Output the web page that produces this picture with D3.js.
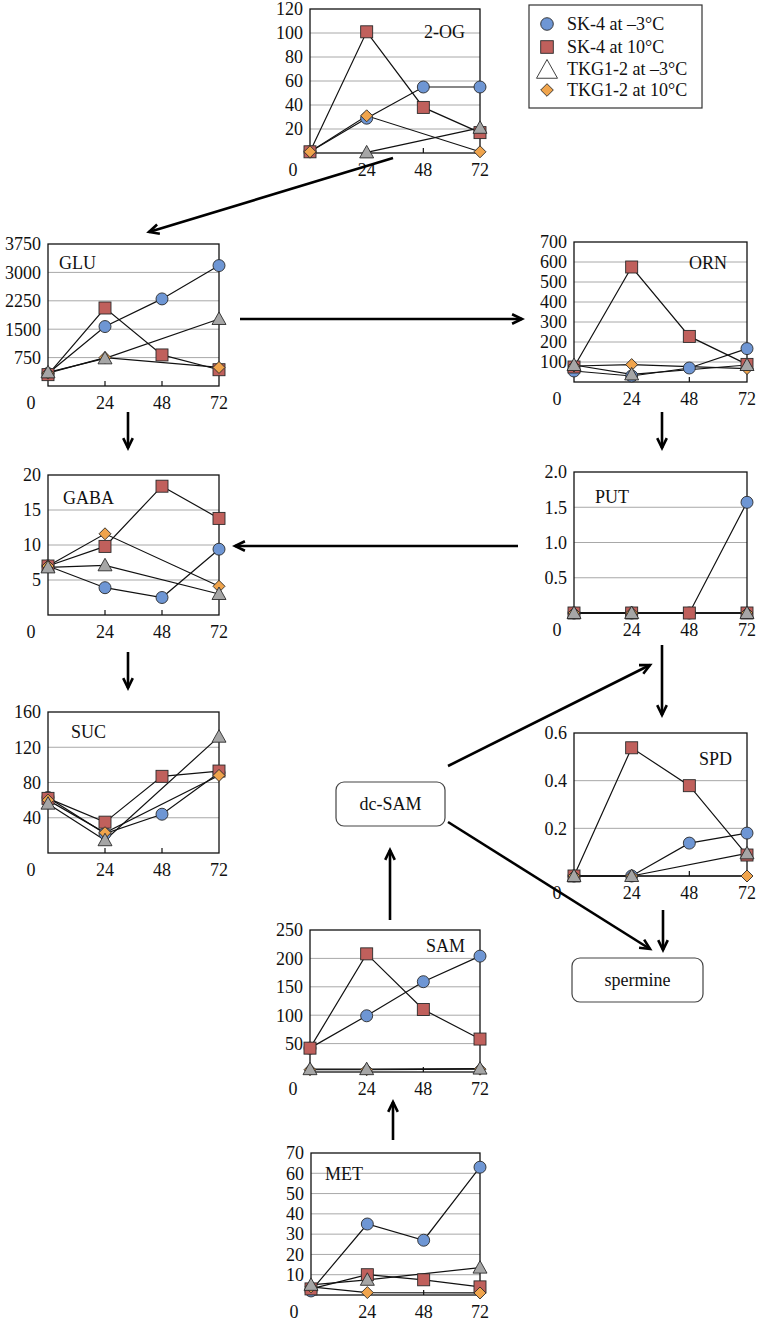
<!DOCTYPE html>
<html><head><meta charset="utf-8">
<script src="https://cdn.jsdelivr.net/npm/d3@7"></script>
<style>body{margin:0;background:#fff}svg{display:block;font-family:"Liberation Serif","Times New Roman",serif}</style>
</head><body><svg id="c" width="757" height="1323"></svg>
<script>
// ---------- data ----------
const hours = [0, 24, 48, 72];
const xTickLabels = [24, 48, 72];
const seriesNames = ["SK-4 at \u20133\u00B0C", "SK-4 at 10\u00B0C", "TKG1-2 at \u20133\u00B0C", "TKG1-2 at 10\u00B0C"];
const metaboliteNames = ["2-OG", "GLU", "ORN", "GABA", "PUT", "SUC", "SPD", "SAM", "MET"];
const nodeNames = ["dc-SAM", "spermine"];

// order in each: SK-4 -3 (circle), SK-4 10 (square), TKG1-2 -3 (triangle), TKG1-2 10 (diamond)
const og_sk4Cold = [1, 29, 55, 55];
const og_sk4Warm = [1, 101, 38, 17];
const og_tkgCold = [null, 0.5, null, 21];
const og_tkgWarm = [1, 31, null, 1];
const ogTicks = [20, 40, 60, 80, 100, 120];

const glu_sk4Cold = [330, 1570, 2300, 3180];
const glu_sk4Warm = [300, 2060, 820, 430];
const glu_tkgCold = [360, 730, null, 1770];
const glu_tkgWarm = [340, 750, null, 490];
const gluTicks = [750, 1500, 2250, 3000, 3750];

const orn_sk4Cold = [55, 30, 70, 167];
const orn_sk4Warm = [75, 575, 228, 88];
const orn_tkgCold = [85, 38, null, 85];
const orn_tkgWarm = [80, 87, null, 67];
const ornTicks = [100, 200, 300, 400, 500, 600, 700];

const gaba_sk4Cold = [7.0, 3.9, 2.5, 9.4];
const gaba_sk4Warm = [7.0, 9.8, 18.4, 13.8];
const gaba_tkgCold = [6.8, 7.1, null, 3.0];
const gaba_tkgWarm = [7.0, 11.6, null, 4.1];
const gabaTicks = [5, 10, 15, 20];

const put_sk4Cold = [0, 0, 0, 1.57];
const put_sk4Warm = [0, 0, 0, 0];
const put_tkgCold = [0, 0, null, 0];
const put_tkgWarm = [0, 0, null, 0];
const putTicks = [0.5, 1.0, 1.5, 2.0];

const suc_sk4Cold = [63, 22, 44, 91];
const suc_sk4Warm = [62, 35, 87, 93];
const suc_tkgCold = [56, 14.5, null, 132];
const suc_tkgWarm = [60, 23, null, 88];
const sucTicks = [40, 80, 120, 160];

const spd_sk4Cold = [0, 0, 0.138, 0.18];
const spd_sk4Warm = [0, 0.538, 0.379, 0.088];
const spd_tkgCold = [0, 0, null, 0.095];
const spd_tkgWarm = [0, 0, null, 0];
const spdTicks = [0.2, 0.4, 0.6];

const sam_sk4Cold = [42, 99, 159, 204];
const sam_sk4Warm = [42, 208, 110, 58];
const sam_tkgCold = [5, 5, null, 6];
const sam_tkgWarm = [4, 4, null, 5];
const samTicks = [50, 100, 150, 200, 250];

const met_sk4Cold = [2, 35, 27, 63];
const met_sk4Warm = [3, 10, 7.5, 4];
const met_tkgCold = [5, 7.5, null, 13.5];
const met_tkgWarm = [4, 1.2, null, 1];
const metTicks = [10, 20, 30, 40, 50, 60, 70];

// ---------- styles / layout ----------
const fills = ["#6e96d4", "#c0605c", "#a6a6a6", "#f0a44c"];
const shapes = ["circle", "square", "triangle", "diamond"];
const drawOrder = [0, 1, 3, 2];
const FS = 18;

const panels = [
  {name: metaboliteNames[0], L: 310, R: 480, T: 9,   B: 153,  max: 120,  ticks: ogTicks,   fmt: d3.format("d"),   nx: 465, ny: 32,  anchor: "end",   s: [og_sk4Cold, og_sk4Warm, og_tkgCold, og_tkgWarm]},
  {name: metaboliteNames[1], L: 48,  R: 219, T: 244, B: 386,  max: 3750, ticks: gluTicks,  fmt: d3.format("d"),   nx: 59,  ny: 263, anchor: "start", s: [glu_sk4Cold, glu_sk4Warm, glu_tkgCold, glu_tkgWarm]},
  {name: metaboliteNames[2], L: 574, R: 747, T: 242, B: 382,  max: 700,  ticks: ornTicks,  fmt: d3.format("d"),   nx: 727, ny: 263, anchor: "end",   s: [orn_sk4Cold, orn_sk4Warm, orn_tkgCold, orn_tkgWarm]},
  {name: metaboliteNames[3], L: 48,  R: 219, T: 475, B: 615,  max: 20,   ticks: gabaTicks, fmt: d3.format("d"),   nx: 63,  ny: 498, anchor: "start", s: [gaba_sk4Cold, gaba_sk4Warm, gaba_tkgCold, gaba_tkgWarm]},
  {name: metaboliteNames[4], L: 574, R: 747, T: 472, B: 613,  max: 2,    ticks: putTicks,  fmt: d3.format(".1f"), nx: 595, ny: 497, anchor: "start", s: [put_sk4Cold, put_sk4Warm, put_tkgCold, put_tkgWarm]},
  {name: metaboliteNames[5], L: 48,  R: 219, T: 712, B: 853,  max: 160,  ticks: sucTicks,  fmt: d3.format("d"),   nx: 71,  ny: 732, anchor: "start", s: [suc_sk4Cold, suc_sk4Warm, suc_tkgCold, suc_tkgWarm]},
  {name: metaboliteNames[6], L: 574, R: 747, T: 733, B: 876,  max: 0.6,  ticks: spdTicks,  fmt: d3.format(".1f"), nx: 732, ny: 759, anchor: "end",   s: [spd_sk4Cold, spd_sk4Warm, spd_tkgCold, spd_tkgWarm]},
  {name: metaboliteNames[7], L: 310, R: 480, T: 930, B: 1072, max: 250,  ticks: samTicks,  fmt: d3.format("d"),   nx: 465, ny: 946, anchor: "end",   s: [sam_sk4Cold, sam_sk4Warm, sam_tkgCold, sam_tkgWarm]},
  {name: metaboliteNames[8], L: 311, R: 480, T: 1153, B: 1295, max: 70,  ticks: metTicks,  fmt: d3.format("d"),   nx: 325, ny: 1174, anchor: "start", s: [met_sk4Cold, met_sk4Warm, met_tkgCold, met_tkgWarm]}
];

const svg = d3.select("#c");

function marker(g, shape, x, y, fill, scale) {
  const k = scale || 1;
  let el;
  if (shape === "circle") el = g.append("circle").attr("cx", x).attr("cy", y).attr("r", 6 * k);
  else if (shape === "square") el = g.append("rect").attr("x", x - 6 * k).attr("y", y - 6 * k).attr("width", 12 * k).attr("height", 12 * k);
  else if (shape === "triangle") el = g.append("path").attr("d", `M${x},${y - 7 * k}L${x + 7 * k},${y + 5.5 * k}L${x - 7 * k},${y + 5.5 * k}Z`);
  else el = g.append("path").attr("d", `M${x},${y - 6 * k}L${x + 6 * k},${y}L${x},${y + 6 * k}L${x - 6 * k},${y}Z`);
  el.attr("fill", fill).attr("stroke", "#2a2a2a").attr("stroke-width", 0.9);
  return el;
}

panels.forEach(p => {
  const g = svg.append("g");
  const x = d3.scaleLinear().domain([0, 72]).range([p.L, p.R]);
  const y = d3.scaleLinear().domain([0, p.max]).range([p.B, p.T]);
  g.selectAll("line.grid").data(p.ticks.filter(t => t < p.max)).join("line")
    .attr("x1", p.L).attr("x2", p.R).attr("y1", d => y(d)).attr("y2", d => y(d))
    .attr("stroke", "#a8a8a8").attr("stroke-width", 1);
  g.append("rect").attr("x", p.L).attr("y", p.T).attr("width", p.R - p.L).attr("height", p.B - p.T)
    .attr("fill", "none").attr("stroke", "#111").attr("stroke-width", 1.3);
  g.selectAll("line.xt").data([24, 48]).join("line")
    .attr("x1", d => x(d)).attr("x2", d => x(d)).attr("y1", p.B).attr("y2", p.B - 5)
    .attr("stroke", "#111").attr("stroke-width", 1.2);
  g.selectAll("text.yl").data(p.ticks).join("text")
    .attr("x", p.L - 7).attr("y", d => y(d)).attr("dy", "0.35em")
    .attr("text-anchor", "end").attr("font-size", FS).attr("fill", "#111").text(d => p.fmt(d));
  g.selectAll("text.xl").data(xTickLabels).join("text")
    .attr("x", d => x(d)).attr("y", p.B + 17).attr("dy", "0.35em")
    .attr("text-anchor", "middle").attr("font-size", FS).attr("fill", "#111").text(d => d);
  g.append("text").attr("x", p.L - 17).attr("y", p.B + 17).attr("dy", "0.35em")
    .attr("text-anchor", "middle").attr("font-size", FS).attr("fill", "#111").text(hours[0]);
  g.append("text").attr("x", p.nx).attr("y", p.ny).attr("dy", "0.35em")
    .attr("text-anchor", p.anchor).attr("font-size", FS).attr("fill", "#111").text(p.name);
  const line = d3.line().x(d => x(d[0])).y(d => y(d[1]));
  drawOrder.forEach(si => {
    const pts = hours.map((h, i) => [h, p.s[si][i]]).filter(d => d[1] != null);
    g.append("path").attr("d", line(pts)).attr("fill", "none").attr("stroke", "#111").attr("stroke-width", 1.2);
  });
  drawOrder.forEach(si => {
    hours.forEach((h, i) => {
      const v = p.s[si][i];
      if (v != null) marker(g, shapes[si], x(h), y(v), fills[si]);
    });
  });
});

// legend
const lg = svg.append("g");
lg.append("rect").attr("x", 529).attr("y", 5).attr("width", 173).attr("height", 103)
  .attr("fill", "#fff").attr("stroke", "#333").attr("stroke-width", 1.2);
const legY = [24, 47, 69, 90];
seriesNames.forEach((n, i) => {
  const isTri = shapes[i] === "triangle";
  marker(lg, shapes[i], 547, legY[i] + (isTri ? 1 : 0), isTri ? "#fff" : fills[i], isTri ? 1.5 : 1.05);
  lg.append("text").attr("x", 567).attr("y", legY[i]).attr("dy", "0.35em")
    .attr("font-size", FS).attr("fill", "#111").text(n);
});

function box(x0, y0, w, h, label) {
  svg.append("rect").attr("x", x0).attr("y", y0).attr("width", w).attr("height", h)
    .attr("rx", 8).attr("fill", "#fff").attr("stroke", "#444").attr("stroke-width", 1.2);
  svg.append("text").attr("x", x0 + w / 2).attr("y", y0 + h / 2).attr("dy", "0.35em")
    .attr("text-anchor", "middle").attr("font-size", FS).attr("fill", "#111").text(label);
}
box(336, 782, 109, 44, nodeNames[0]);
box(572, 958, 131, 44, nodeNames[1]);

function arrow(x1, y1, x2, y2) {
  const a = Math.atan2(y2 - y1, x2 - x1), L = 11, w = 0.45;
  svg.append("line").attr("x1", x1).attr("y1", y1).attr("x2", x2).attr("y2", y2)
    .attr("stroke", "#000").attr("stroke-width", 2.6);
  const p1 = [x2 - L * Math.cos(a - w), y2 - L * Math.sin(a - w)];
  const p2 = [x2 - L * Math.cos(a + w), y2 - L * Math.sin(a + w)];
  svg.append("path").attr("d", `M${p1}L${x2},${y2}L${p2}`).attr("fill", "none")
    .attr("stroke", "#000").attr("stroke-width", 2.6).attr("stroke-linejoin", "miter");
}
arrow(393, 158, 149, 232);
arrow(240, 319, 522, 319);
arrow(128, 412, 128, 448);
arrow(662, 412, 662, 448);
arrow(518, 546, 235, 546);
arrow(128, 652, 128, 688);
arrow(662, 645, 662, 715);
arrow(448, 766, 650, 665);
arrow(448, 822, 650, 949);
arrow(663, 910, 663, 950);
arrow(390, 920, 390, 850);
arrow(393, 1140, 393, 1102);
</script></body></html>
